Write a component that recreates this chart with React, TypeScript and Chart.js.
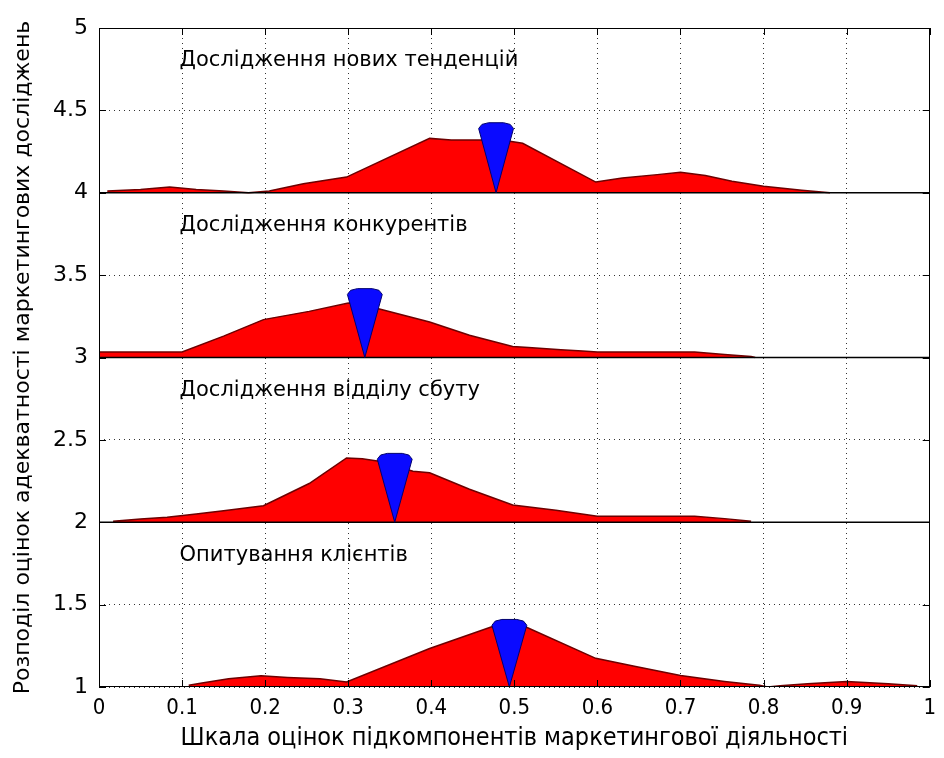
import { useEffect, useRef } from 'react';
import { Chart, registerables } from 'chart.js';

Chart.register(...registerables);

// ---- data ----
const seriesNames = [
  'Дослідження нових тенденцій',
  'Дослідження конкурентів',
  'Дослідження відділу сбуту',
  'Опитування клієнтів',
];
const seriesBase = [4, 3, 2, 1];

const trendsX = [0.01, 0.05, 0.085, 0.117, 0.15, 0.18, 0.205, 0.246, 0.298, 0.398, 0.424, 0.485, 0.51, 0.598, 0.63, 0.672, 0.7, 0.73, 0.762, 0.8, 0.846, 0.88];
const trendsH = [0.01, 0.02, 0.035, 0.02, 0.01, 0.0, 0.01, 0.055, 0.095, 0.33, 0.32, 0.32, 0.3, 0.065, 0.09, 0.11, 0.125, 0.105, 0.07, 0.04, 0.015, 0.0];

const competitorsX = [0, 0.1, 0.15, 0.198, 0.253, 0.3, 0.333, 0.398, 0.446, 0.498, 0.517, 0.556, 0.582, 0.6, 0.717, 0.753, 0.785, 0.79];
const competitorsH = [0.033, 0.033, 0.13, 0.23, 0.28, 0.33, 0.3, 0.215, 0.135, 0.067, 0.06, 0.047, 0.04, 0.033, 0.033, 0.018, 0.006, 0.0];

const salesX = [0.017, 0.05, 0.082, 0.117, 0.15, 0.198, 0.253, 0.298, 0.317, 0.337, 0.378, 0.398, 0.446, 0.498, 0.55, 0.6, 0.717, 0.753, 0.785];
const salesH = [0.006, 0.02, 0.03, 0.05, 0.07, 0.1, 0.235, 0.39, 0.385, 0.37, 0.31, 0.3, 0.2, 0.105, 0.073, 0.037, 0.037, 0.022, 0.006];

const clientsX = [0.108, 0.124, 0.156, 0.195, 0.227, 0.266, 0.298, 0.398, 0.472, 0.494, 0.514, 0.598, 0.646, 0.7, 0.753, 0.795, 0.805, 0.82, 0.853, 0.9, 0.95, 0.985];
const clientsH = [0.01, 0.024, 0.05, 0.068, 0.058, 0.05, 0.03, 0.234, 0.364, 0.39, 0.364, 0.174, 0.124, 0.07, 0.034, 0.01, 0.0, 0.008, 0.02, 0.034, 0.02, 0.008];

const seriesX = [trendsX, competitorsX, salesX, clientsX];
const seriesH = [trendsH, competitorsH, salesH, clientsH];

const markerX = [0.478, 0.32, 0.356, 0.494];
const markerTop = [4.425, 3.418, 2.418, 1.41];

const labelX = 0.097;
const labelY = [4.8, 3.8, 2.8, 1.8];

const xMin = 0, xMax = 1, xStep = 0.1;
const yMin = 1, yMax = 5, yStep = 0.5;

const xTitle = 'Шкала оцінок підкомпонентів маркетингової діяльності';
const yTitle = 'Розподіл оцінок адекватності маркетингових досліджень';

const fmt = (v: number) => String(Number(v.toFixed(2)));

const WIDE = '"DejaVu Sans", Verdana, sans-serif';
const NARROW = '"Liberation Sans Narrow", "DejaVu Sans Condensed", sans-serif';

export default function App() {
  const ref = useRef<HTMLCanvasElement | null>(null);

  useEffect(() => {
    const canvas = ref.current;
    if (!canvas) return;

    const datasets: any[] = [];

    // red distributions
    seriesX.forEach((xs, i) => {
      const base = seriesBase[i];
      datasets.push({
        data: xs.map((x, j) => ({ x, y: base + seriesH[i][j] })),
        borderColor: '#6e0000',
        borderWidth: 1.5,
        backgroundColor: '#ff0000',
        fill: { value: base },
        pointRadius: 0,
        tension: 0,
        order: 3,
      });
    });

    // black base lines
    seriesBase.forEach((base) => {
      datasets.push({
        data: [{ x: xMin, y: base }, { x: xMax, y: base }],
        borderColor: '#000',
        borderWidth: 1.5,
        pointRadius: 0,
        fill: false,
        order: 2,
      });
    });

    // blue markers (V-shaped wedge + rounded cap)
    markerX.forEach((c, i) => {
      const base = seriesBase[i];
      const T = markerTop[i];
      const hw = 0.021;
      const vIndex = datasets.length;
      datasets.push({
        data: [
          { x: c - hw, y: T - 0.035 },
          { x: c, y: base },
          { x: c + hw, y: T - 0.035 },
        ],
        borderColor: '#00006e',
        borderWidth: 1,
        backgroundColor: '#0a0aff',
        pointRadius: 0,
        fill: false,
        order: 1,
      });
      datasets.push({
        data: [
          { x: c - hw, y: T - 0.035 },
          { x: c - 0.017, y: T - 0.01 },
          { x: c - 0.009, y: T },
          { x: c + 0.009, y: T },
          { x: c + 0.017, y: T - 0.01 },
          { x: c + hw, y: T - 0.035 },
        ],
        borderColor: '#00006e',
        borderWidth: 1,
        backgroundColor: '#0a0aff',
        pointRadius: 0,
        fill: vIndex,
        order: 1,
      });
    });

    const framePlugin = {
      id: 'frameAndLabels',
      afterDatasetsDraw(chart: any) {
        const { ctx, chartArea: a, scales } = chart;
        const sx = scales.x;
        const sy = scales.y;
        ctx.save();
        ctx.strokeStyle = '#000';
        ctx.lineWidth = 1;
        ctx.setLineDash([]);
        ctx.strokeRect(Math.round(a.left) + 0.5, Math.round(a.top) + 0.5, Math.round(a.right - a.left) - 1, Math.round(a.bottom - a.top) - 1);
        ctx.beginPath();
        sx.ticks.forEach((t: any) => {
          const px = Math.round(sx.getPixelForValue(t.value)) + 0.5;
          ctx.moveTo(px, a.bottom);
          ctx.lineTo(px, a.bottom - 7);
          ctx.moveTo(px, a.top);
          ctx.lineTo(px, a.top + 7);
        });
        sy.ticks.forEach((t: any) => {
          const py = Math.round(sy.getPixelForValue(t.value)) + 0.5;
          ctx.moveTo(a.left, py);
          ctx.lineTo(a.left + 7, py);
          ctx.moveTo(a.right, py);
          ctx.lineTo(a.right - 7, py);
        });
        ctx.stroke();

        ctx.fillStyle = '#000';
        ctx.font = '21px ' + WIDE;
        ctx.textAlign = 'left';
        ctx.textBaseline = 'middle';
        seriesNames.forEach((n, i) => {
          ctx.fillText(n, sx.getPixelForValue(labelX), sy.getPixelForValue(labelY[i]));
        });
        ctx.restore();
      },
    };

    const chart = new Chart(canvas, {
      type: 'line',
      data: { datasets },
      options: {
        animation: false,
        responsive: false,
        devicePixelRatio: 1,
        layout: { padding: { top: 28, right: 4, left: 0, bottom: 0 } },
        plugins: {
          legend: { display: false },
          tooltip: { enabled: false },
        },
        scales: {
          x: {
            type: 'linear',
            min: xMin,
            max: xMax,
            afterFit: (s: any) => { s.height = 71; },
            ticks: {
              stepSize: xStep,
              color: '#000',
              padding: 8,
              maxRotation: 0,
              font: { family: NARROW, size: 22 },
              callback: (v: any) => fmt(Number(v)),
            },
            grid: { color: '#333', lineWidth: 1, drawTicks: false },
            border: { display: false, dash: [1, 4] },
            title: {
              display: true,
              text: xTitle,
              color: '#000',
              font: { family: NARROW, size: 25 },
              padding: { top: 0, bottom: 5 },
            },
          },
          y: {
            type: 'linear',
            min: yMin,
            max: yMax,
            afterFit: (s: any) => { s.width = 99; },
            ticks: {
              stepSize: yStep,
              color: '#000',
              padding: 11,
              font: { family: WIDE, size: 22 },
              callback: (v: any) => fmt(Number(v)),
            },
            grid: { color: '#333', lineWidth: 1, drawTicks: false },
            border: { display: false, dash: [1, 4] },
            title: {
              display: true,
              text: yTitle,
              color: '#000',
              font: { family: WIDE, size: 22 },
              padding: { top: 10, bottom: 0 },
            },
          },
        },
      },
      plugins: [framePlugin],
    });

    return () => chart.destroy();
  }, []);

  return (
    <div style={{ position: 'absolute', left: 0, top: 0, width: 944, height: 758, background: '#fff' }}>
      <canvas ref={ref} width={944} height={758} />
    </div>
  );
}
